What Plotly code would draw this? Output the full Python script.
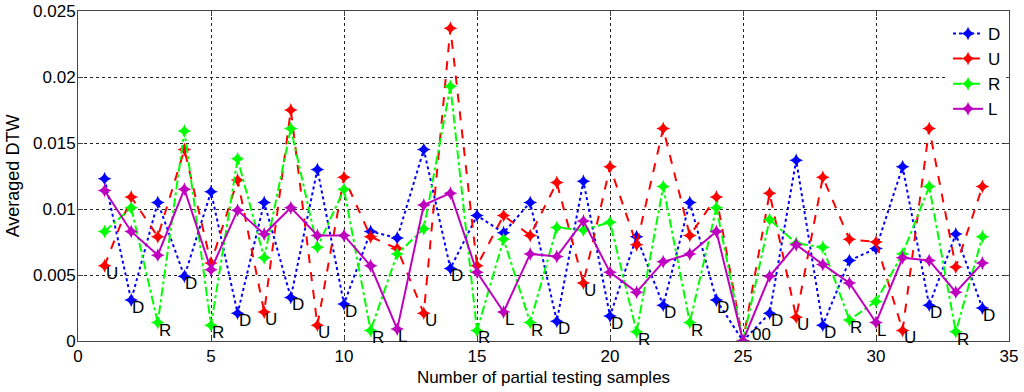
import plotly.graph_objects as go

x = list(range(1, 35))

D = [0.0123, 0.0031, 0.0105, 0.0049, 0.0113, 0.0021, 0.0105, 0.0033, 0.0130, 0.0028,
     0.0083, 0.0078, 0.0145, 0.0055, 0.0095, 0.0082, 0.0105, 0.0015, 0.0121, 0.0019,
     0.0079, 0.0027, 0.0105, 0.0031, 0.0000, 0.0021, 0.0137, 0.0012, 0.0061, 0.0070,
     0.0132, 0.0027, 0.0081, 0.0025]
U = [0.0057, 0.0109, 0.0079, 0.0145, 0.0059, 0.0122, 0.0022, 0.0175, 0.0012, 0.0124,
     0.0079, 0.0070, 0.0021, 0.0237, 0.0057, 0.0095, 0.0080, 0.0120, 0.0044, 0.0132,
     0.0073, 0.0161, 0.0080, 0.0109, 0.0000, 0.0112, 0.0018, 0.0124, 0.0077, 0.0075,
     0.0008, 0.0161, 0.0056, 0.0117]
R = [0.0083, 0.0101, 0.0014, 0.0159, 0.0012, 0.0138, 0.0063, 0.0161, 0.0071, 0.0115,
     0.0008, 0.0066, 0.0085, 0.0193, 0.0008, 0.0077, 0.0014, 0.0086, 0.0084, 0.0090,
     0.0007, 0.0117, 0.0014, 0.0101, 0.0000, 0.0092, 0.0074, 0.0071, 0.0016, 0.0030,
     0.0066, 0.0117, 0.0007, 0.0079]
L = [0.0114, 0.0083, 0.0065, 0.0115, 0.0054, 0.0099, 0.0081, 0.0101, 0.0080, 0.0080,
     0.0057, 0.0009, 0.0103, 0.0112, 0.0052, 0.0022, 0.0066, 0.0064, 0.0091, 0.0052,
     0.0037, 0.0060, 0.0066, 0.0083, 0.0000, 0.0049, 0.0073, 0.0058, 0.0044, 0.0014,
     0.0063, 0.0061, 0.0037, 0.0059]

point_labels = ["U", "D", "R", "D", "R", "D", "U", "D", "U", "D",
                "R", "L", "U", "D", "R", "L", "R", "D", "U", "D",
                "R", "D", "R", "D", "00", "D", "U", "D", "R", "L",
                "U", "D", "R", "D"]

x_ticks = [0, 5, 10, 15, 20, 25, 30, 35]
y_ticks = [0, 0.005, 0.01, 0.015, 0.02, 0.025]
y_tick_text = ["0", "0.005", "0.01", "0.015", "0.02", "0.025"]

FONT = "Arial, Liberation Sans, sans-serif"

series = [
    ("D", D, "#0000ff", "dot"),
    ("U", U, "#ff0000", "dash"),
    ("R", R, "#00ff00", "dashdot"),
    ("L", L, "#bf00bf", "solid"),
]

fig = go.Figure()
for name, vals, color, dash in series:
    fig.add_trace(go.Scatter(
        x=x, y=vals, name=name, mode="lines+markers",
        line=dict(color=color, width=2, dash=dash),
        marker=dict(symbol="star-diamond", size=10, color=color,
                    line=dict(width=0)),
    ))

for i, xi in enumerate(x):
    yi = min(D[i], U[i], R[i], L[i])
    if yi == 0:
        fig.add_annotation(
            x=xi, y=yi, text=point_labels[i], showarrow=False,
            xanchor="left", yanchor="bottom", xshift=7, yshift=-5,
            font=dict(family=FONT, size=17, color="black"),
        )
    else:
        fig.add_annotation(
            x=xi, y=yi, text=point_labels[i], showarrow=False,
            xanchor="left", yanchor="top", xshift=-1, yshift=4,
            font=dict(family=FONT, size=17, color="black"),
        )

axis_common = dict(
    showgrid=True, gridcolor="#222222", griddash="dot", gridwidth=1,
    showline=True, linecolor="#444444", linewidth=1, mirror="ticks",
    ticks="inside", ticklen=5, tickcolor="#444444",
    zeroline=False, automargin=False,
    tickfont=dict(family=FONT, size=17, color="black"),
)

fig.update_xaxes(range=[0, 35], tickvals=x_ticks,
                 title=dict(text="Number of partial testing samples",
                            font=dict(family=FONT, size=17, color="black"), standoff=5),
                 **axis_common)
fig.update_yaxes(range=[0, 0.025], tickvals=y_ticks, ticktext=y_tick_text,
                 ticklabelstandoff=-2,
                 title=dict(text="Averaged DTW",
                            font=dict(family=FONT, size=18, color="black"), standoff=8),
                 **axis_common)

fig.update_layout(
    width=1024, height=392,
    margin=dict(l=78, r=15, t=11, b=51),
    paper_bgcolor="white", plot_bgcolor="white",
    showlegend=True,
    legend=dict(x=0.9968, y=0.985, xanchor="right", yanchor="top",
                bgcolor="white", borderwidth=0,
                font=dict(family=FONT, size=17, color="black"),
                tracegroupgap=0),
    font=dict(family=FONT),
)

fig.write_html("out.html", config={"displayModeBar": False},
               post_script="document.body.style.margin='0';document.body.style.overflow='hidden';")
